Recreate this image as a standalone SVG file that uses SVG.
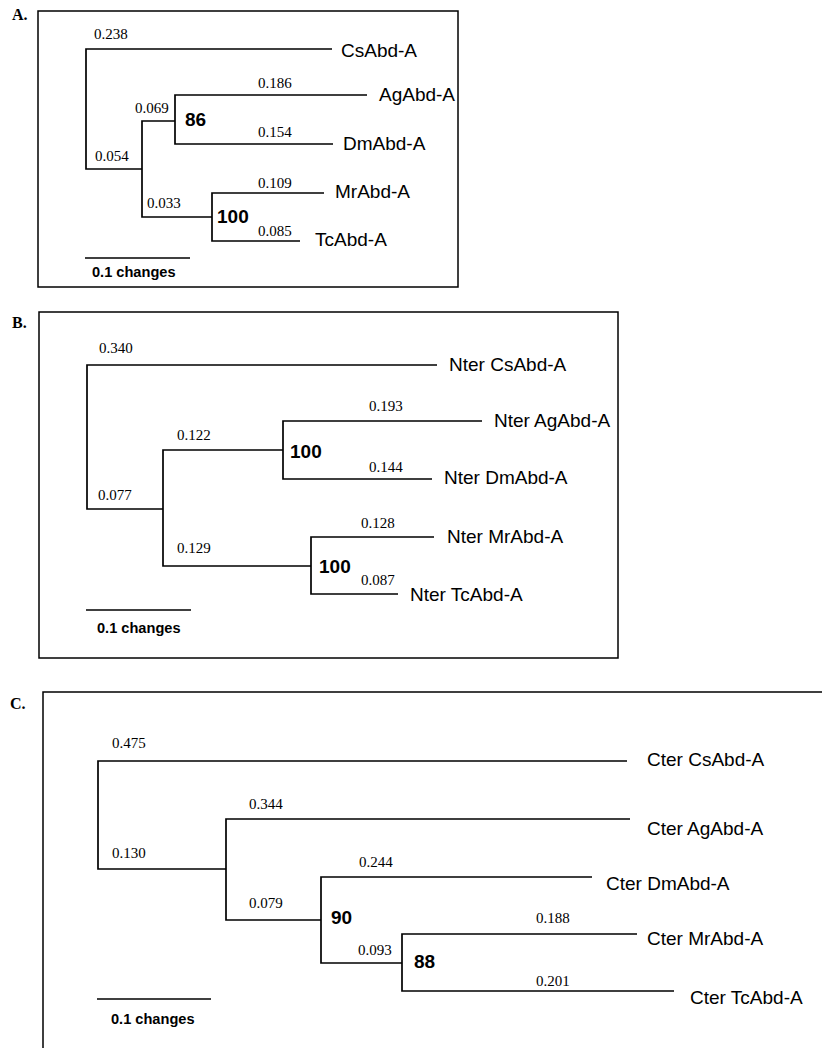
<svg xmlns="http://www.w3.org/2000/svg" width="822" height="1048" viewBox="0 0 822 1048">
<style>
.bg{fill:#fff}
.frame{fill:none;stroke:#000;stroke-width:1.5}
.br{fill:none;stroke:#000;stroke-width:1.7}
.tx{font-family:"Liberation Sans",Arial,sans-serif;font-size:19px;fill:#000}
.len{font-family:"Liberation Serif","Times New Roman",serif;font-size:15px;fill:#000}
.bs{font-family:"Liberation Sans",Arial,sans-serif;font-size:19px;font-weight:bold;fill:#000}
.pl{font-family:"Liberation Serif","Times New Roman",serif;font-size:16px;font-weight:bold;fill:#000}
.sc{font-family:"Liberation Sans",Arial,sans-serif;font-size:14.6px;font-weight:bold;fill:#000}
</style>
<rect class="bg" x="0" y="0" width="822" height="1048"/>

<!-- Panel A -->
<g id="panelA">
  <text class="pl" x="12" y="20">A.</text>
  <rect class="frame" x="38" y="11" width="420" height="276"/>
  <g id="A-connectors">
    <path class="br" d="M332 49 H86 V169 H142"/>
    <path class="br" d="M175 121 H142 V217 H212"/>
    <path class="br" d="M367 95 H175 V144 H333"/>
    <path class="br" d="M324 193 H212 V241 H300"/>
    <path class="br" d="M85 258 H190"/>
  </g>
  <g id="A-lengths">
    <text class="len" x="94" y="39">0.238</text>
    <text class="len" x="95" y="161">0.054</text>
    <text class="len" x="135" y="113">0.069</text>
    <text class="len" x="258" y="88">0.186</text>
    <text class="len" x="258" y="137">0.154</text>
    <text class="len" x="147" y="208">0.033</text>
    <text class="len" x="258" y="188">0.109</text>
    <text class="len" x="258" y="236">0.085</text>
  </g>
  <g id="A-CsAbd"><text class="tx" x="341" y="57">CsAbd-A</text></g>
  <g id="A-AgAbd"><text class="tx" x="379" y="101">AgAbd-A</text></g>
  <g id="A-DmAbd"><text class="tx" x="343" y="150">DmAbd-A</text></g>
  <g id="A-MrAbd"><text class="tx" x="335" y="198">MrAbd-A</text></g>
  <g id="A-TcAbd"><text class="tx" x="315" y="246">TcAbd-A</text></g>
  <g id="A-node86"><text class="bs" x="185" y="126">86</text></g>
  <g id="A-node100"><text class="bs" x="217" y="223">100</text></g>
  <text class="sc" x="92" y="277">0.1 changes</text>
</g>

<!-- Panel B -->
<g id="panelB">
  <text class="pl" x="12" y="328">B.</text>
  <rect class="frame" x="39" y="312" width="579" height="346"/>
  <g id="B-connectors">
    <path class="br" d="M437 365 H87 V509 H163"/>
    <path class="br" d="M283 450 H163 V566 H311"/>
    <path class="br" d="M482 421 H283 V479 H432"/>
    <path class="br" d="M434 537 H311 V594 H398"/>
    <path class="br" d="M86 610 H191"/>
  </g>
  <g id="B-lengths">
    <text class="len" x="99" y="353">0.340</text>
    <text class="len" x="98" y="500">0.077</text>
    <text class="len" x="177" y="440">0.122</text>
    <text class="len" x="177" y="553">0.129</text>
    <text class="len" x="369" y="411">0.193</text>
    <text class="len" x="369" y="472">0.144</text>
    <text class="len" x="361" y="528">0.128</text>
    <text class="len" x="361" y="585">0.087</text>
  </g>
  <g id="B-CsAbd"><text class="tx" x="449" y="371">Nter CsAbd-A</text></g>
  <g id="B-AgAbd"><text class="tx" x="494" y="427">Nter AgAbd-A</text></g>
  <g id="B-DmAbd"><text class="tx" x="444" y="484">Nter DmAbd-A</text></g>
  <g id="B-MrAbd"><text class="tx" x="447" y="543">Nter MrAbd-A</text></g>
  <g id="B-TcAbd"><text class="tx" x="410" y="601">Nter TcAbd-A</text></g>
  <g id="B-node100a"><text class="bs" x="290" y="458">100</text></g>
  <g id="B-node100b"><text class="bs" x="319" y="573">100</text></g>
  <text class="sc" x="97" y="633">0.1 changes</text>
</g>

<!-- Panel C -->
<g id="panelC">
  <text class="pl" x="10" y="709">C.</text>
  <path class="frame" d="M823 692 H43 V1049"/>
  <g id="C-connectors">
    <path class="br" d="M627 761 H98 V869 H226"/>
    <path class="br" d="M630 819 H226 V920 H321"/>
    <path class="br" d="M592 877 H321 V963 H402"/>
    <path class="br" d="M637 934 H402 V991 H674"/>
    <path class="br" d="M97 999 H211"/>
  </g>
  <g id="C-lengths">
    <text class="len" x="112" y="748">0.475</text>
    <text class="len" x="112" y="858">0.130</text>
    <text class="len" x="249" y="809">0.344</text>
    <text class="len" x="249" y="908">0.079</text>
    <text class="len" x="359" y="867">0.244</text>
    <text class="len" x="358" y="955">0.093</text>
    <text class="len" x="536" y="923">0.188</text>
    <text class="len" x="536" y="986">0.201</text>
  </g>
  <g id="C-CsAbd"><text class="tx" x="647" y="766">Cter CsAbd-A</text></g>
  <g id="C-AgAbd"><text class="tx" x="647" y="835">Cter AgAbd-A</text></g>
  <g id="C-DmAbd"><text class="tx" x="606" y="890">Cter DmAbd-A</text></g>
  <g id="C-MrAbd"><text class="tx" x="647" y="945">Cter MrAbd-A</text></g>
  <g id="C-TcAbd"><text class="tx" x="690" y="1004">Cter TcAbd-A</text></g>
  <g id="C-node90"><text class="bs" x="331" y="924">90</text></g>
  <g id="C-node88"><text class="bs" x="414" y="968">88</text></g>
  <text class="sc" x="111" y="1024">0.1 changes</text>
</g>
</svg>
